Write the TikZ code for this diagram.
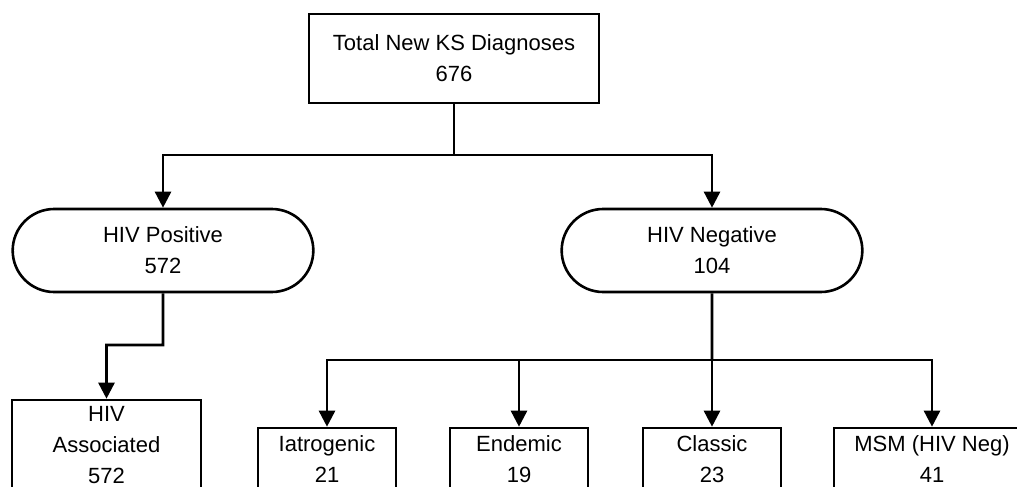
\documentclass[tikz,border=0pt]{standalone}
\usepackage{fontspec}
\setmainfont{Liberation Sans}
\usetikzlibrary{shapes.misc, arrows.meta}

\begin{document}
\begin{tikzpicture}[x=0.5pt, y=-0.5pt, line width=1.3pt, font=\fontsize{11}{15.5}\selectfont,
		box/.style={draw, rectangle, align=center, inner sep=1pt},
		pill/.style={draw, rounded rectangle, align=center, minimum width=157pt, minimum height=41.5pt},
		arr/.style={-{Triangle[length=8pt, width=8pt]}}]
		\useasboundingbox (0, 0) rectangle (1017, 487);
		\clip (0, 0) rectangle (1017, 487);
		\node [box, minimum width=145pt, minimum height=44.5pt] (total) at (454, 58.5) {Total New KS Diagnoses\\676};
		\node [pill] (pos) at (163, 250.5) {HIV Positive\\572};
		\node [pill] (neg) at (712, 250.5) {HIV Negative\\104};
		\node [box, minimum width=94.5pt, minimum height=45.5pt] (assoc) at (106.5, 445.5) {HIV\\Associated\\572};
		\node [box, minimum width=69pt, minimum height=31.5pt] (iat) at (327, 459.5) {Iatrogenic\\21};
		\node [box, minimum width=69pt, minimum height=31.5pt] (end) at (519, 459.5) {Endemic\\19};
		\node [box, minimum width=69pt, minimum height=31.5pt] (cla) at (712, 459.5) {Classic\\23};
		\node [box, minimum width=98pt, minimum height=31.5pt] (msm) at (932, 459.5) {MSM (HIV Neg)\\41};
		\coordinate (split) at (454, 155);
		\coordinate (kink) at (163, 345);
		\coordinate (hub) at (712, 360);
		\draw (total) -- (split);
		\draw [arr] (split) -| (pos);
		\draw [arr] (split) -| (neg);
		\draw [arr] (pos) -- (kink) -| (assoc);
		\draw (neg) -- (hub);
		\draw [arr] (hub) -| (iat);
		\draw [arr] (hub) -| (end);
		\draw [arr] (hub) -- (cla);
		\draw [arr] (hub) -| (msm);
	\end{tikzpicture}
\end{document}
